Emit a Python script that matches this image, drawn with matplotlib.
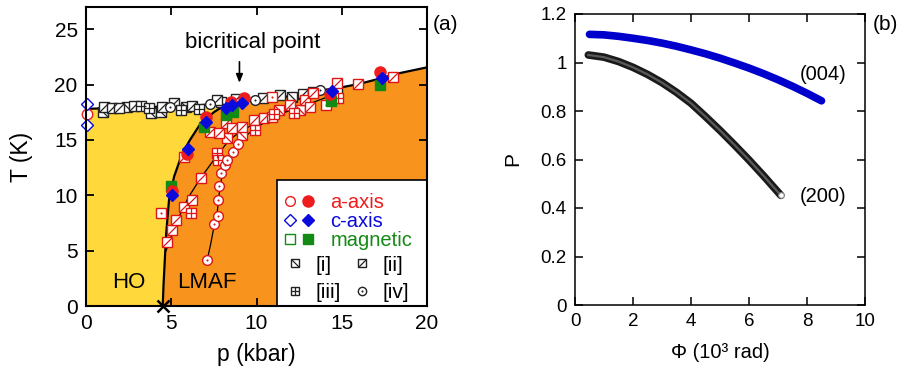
import matplotlib
matplotlib.use("Agg")
import matplotlib.pyplot as plt
import matplotlib.path as mpath
from matplotlib.lines import Line2D
from matplotlib.legend_handler import HandlerTuple
from matplotlib.patches import Rectangle
import numpy as np

plt.rcParams.update({"font.family": ["Liberation Sans", "DejaVu Sans"]})

YELLOW = "#FFD83C"
ORANGE = "#F8931E"
RED = "#EE1C1C"
BLUE = "#0A0ADC"
GREEN = "#138A13"
EDGE_AF = "#DD1515"

# ---------------- panel (a) data: phase diagram ----------------
# HO/LMAF -> PM boundary (upper line)
t0_p = np.array([0, 3, 6, 8, 9, 10, 12, 13.7, 15, 16, 17.4, 18, 20])
t0_T = np.array([17.8, 17.95, 18.05, 18.3, 18.5, 18.65, 18.95, 19.45, 19.75, 20.05, 20.6, 20.9, 21.55])
# HO / LMAF boundary
tx_p = np.array([4.5, 4.55, 4.6, 4.7, 4.87, 5.17, 5.65, 6.1, 6.73, 7.5, 8.3])
tx_T = np.array([0, 2.0, 3.5, 6.5, 9.6, 11.7, 13.8, 15.0, 16.5, 17.5, 18.3])
# thin guide lines in LMAF
lineA_p = [4.7, 5.0, 5.5, 6.0, 6.7, 7.5, 8.4, 9.2, 10.2, 11.5, 13.0, 14.2]
lineA_T = [5.0, 6.3, 8.2, 9.8, 11.5, 13.2, 15.0, 15.9, 16.7, 17.4, 18.2, 18.9]
lineB_p = [7.1, 7.3, 7.55, 7.7, 7.8, 7.95, 8.2, 8.6, 9.0, 9.7, 10.6, 11.8]
lineB_T = [4.1, 5.5, 7.5, 8.5, 10.0, 11.5, 13.0, 14.0, 14.8, 15.8, 16.7, 17.6]

# T0 (HO) points, samples [i]-[iv]
ho_i_p = [0.98, 2.4, 3.8, 4.4, 5.85, 7.9, 12.1, 14.7]
ho_i_T = [17.55, 17.95, 17.4, 17.55, 18.0, 18.45, 18.85, 19.3]
ho_ii_p = [1.07, 1.5, 1.95, 2.83, 4.48, 5.16, 6.24, 7.7, 8.8, 10.4, 11.4, 12.75, 13.3]
ho_ii_T = [18.0, 17.85, 17.86, 18.07, 18.0, 18.3, 18.07, 18.6, 18.7, 18.8, 19.05, 19.1, 19.3]
ho_iii_p = [3.2, 3.7, 5.56, 6.6]
ho_iii_T = [18.1, 17.86, 17.7, 17.8]
ho_iv_p = [4.9, 7.3, 9.9, 13.75]
ho_iv_T = [17.95, 18.25, 18.6, 19.5]

# TN (LMAF) points, samples [i]-[iv]
af_i_p = [8.28, 9.16, 11.3, 12.57]
af_i_T = [15.15, 15.45, 17.7, 17.7]
af_ii_p = [4.78, 5.07, 5.26, 5.75, 6.24, 6.73, 5.75, 7.3, 7.8, 8.19, 8.58, 9.16, 9.84,
           10.43, 10.92, 11.95, 12.87, 13.16, 13.3, 14.72, 15.98, 18.03, 14.5]
af_ii_T = [5.8, 6.87, 7.77, 8.97, 9.58, 11.53, 13.5, 15.75, 15.6, 16.5, 16.05, 16.2, 16.8,
           16.95, 17.1, 18.15, 18.6, 18.0, 19.2, 20.1, 20.05, 20.65, 18.8]
af_iii_p = [6.14, 7.7, 7.75, 9.94, 11.0, 14.8, 12.2]
af_iii_T = [8.37, 13.8, 13.2, 15.9, 17.3, 18.8, 17.4]
af_sd_p = [4.39, 14.1, 10.9]
af_sd_T = [8.37, 18.15, 18.9]
af_iv_p = [7.11, 7.5, 7.74, 7.74, 7.8, 7.9, 8.13, 8.28, 8.64, 8.9]
af_iv_T = [4.16, 7.4, 8.1, 9.6, 10.8, 12.0, 12.7, 13.2, 13.9, 14.6]

# thermal expansion / neutron points
a_p = [5.07, 5.95, 7.02, 8.5, 9.26, 14.33, 17.25]
a_T = [10.4, 13.7, 17.1, 18.4, 18.76, 19.1, 21.1]
c_p = [5.07, 6.0, 7.02, 8.19, 8.58, 9.16, 14.4, 17.35]
c_T = [10.0, 14.2, 16.65, 17.86, 18.15, 18.3, 19.4, 20.6]
m_p = [4.97, 6.92, 8.19, 8.6, 14.37, 17.25]
m_T = [10.85, 16.2, 17.25, 17.5, 18.5, 19.95]
a0_p, a0_T = [0.05], [17.3]
c0_p, c0_T = [0.05, 0.05], [18.2, 16.35]

# ---------------- panel (b) data ----------------
phi_004 = [0.5, 1, 1.5, 2, 2.5, 3, 3.5, 4, 4.5, 5, 5.5, 6, 6.5, 7, 7.5, 8, 8.5]
p_004 = [1.116, 1.114, 1.108, 1.100, 1.091, 1.080, 1.067, 1.052, 1.036, 1.018, 0.998,
         0.977, 0.954, 0.929, 0.902, 0.873, 0.842]
phi_200 = [0.46, 1, 1.5, 2, 2.5, 3, 3.5, 4, 4.5, 5, 5.5, 6, 6.5, 7.1]
p_200 = [1.031, 1.022, 1.004, 0.980, 0.951, 0.917, 0.877, 0.832, 0.777, 0.720, 0.660,
         0.598, 0.533, 0.452]

BACK = mpath.Path([(-1, 1), (1, -1)])
FWD = mpath.Path([(-1, -1), (1, 1)])
INNER = {"i": BACK, "ii": FWD, "iii": "+"}


def sample_handles(kind, edge, ms):
    """Line2D pieces making up one sample symbol (square + inner mark)."""
    if kind == "iv":
        return [Line2D([], [], ls="none", marker="o", ms=ms + 0.5, mfc="white", mec=edge, mew=1.0),
                Line2D([], [], ls="none", marker="o", ms=1.5, mfc=edge, mec=edge, mew=0)]
    base = Line2D([], [], ls="none", marker="s", ms=ms, mfc="white", mec=edge, mew=1.0)
    if kind == "sd":
        return [base, Line2D([], [], ls="none", marker="o", ms=1.5, mfc=edge, mec=edge, mew=0)]
    return [base, Line2D([], [], ls="none", marker=INNER[kind], ms=ms, mfc="none", mec=edge, mew=0.9)]


def sample(ax, p, T, kind, edge, ms=6.5, z=3):
    for h in sample_handles(kind, edge, ms):
        ax.plot(p, T, ls="none", marker=h.get_marker(), ms=h.get_markersize(),
                mfc=h.get_markerfacecolor(), mec=h.get_markeredgecolor(),
                mew=h.get_markeredgewidth(), zorder=z)


fig = plt.figure(figsize=(9.05, 3.74), dpi=100)
axa = fig.add_axes([86 / 905, 68 / 374, 341 / 905, 299 / 374])
axb = fig.add_axes([575 / 905, 69 / 374, 290 / 905, 291 / 374])

# ---- phase areas
junction = tx_p[-1]
left = t0_p < junction
yel_x = np.concatenate([[0], tx_p, t0_p[left][::-1]])
yel_y = np.concatenate([[0], tx_T, t0_T[left][::-1]])
org_x = np.concatenate([tx_p, t0_p[~left], [20]])
org_y = np.concatenate([tx_T, t0_T[~left], [0]])
axa.fill(yel_x, yel_y, color=YELLOW, lw=0, zorder=0)
axa.fill(org_x, org_y, color=ORANGE, lw=0, zorder=0)

axa.plot(t0_p, t0_T, "k-", lw=1.6, zorder=1)
axa.plot(tx_p, tx_T, "k-", lw=1.6, zorder=1)
axa.plot(lineA_p, lineA_T, "k-", lw=0.9, zorder=1)
axa.plot(lineB_p, lineB_T, "k-", lw=0.9, zorder=1)

sample(axa, ho_i_p, ho_i_T, "i", "#222222")
sample(axa, ho_ii_p, ho_ii_T, "ii", "#222222")
sample(axa, ho_iii_p, ho_iii_T, "iii", "#222222")
sample(axa, ho_iv_p, ho_iv_T, "iv", "#222222")
sample(axa, af_i_p, af_i_T, "i", EDGE_AF)
sample(axa, af_ii_p, af_ii_T, "ii", EDGE_AF)
sample(axa, af_iii_p, af_iii_T, "iii", EDGE_AF)
sample(axa, af_sd_p, af_sd_T, "sd", EDGE_AF)
sample(axa, af_iv_p, af_iv_T, "iv", EDGE_AF)

axa.plot(m_p, m_T, "s", ms=7, color=GREEN, zorder=4)
axa.plot(a_p, a_T, "o", ms=8, color=RED, zorder=4)
axa.plot(c_p, c_T, "D", ms=6.5, color=BLUE, zorder=4)
axa.plot(a0_p, a0_T, "o", ms=7.5, mfc="white", mec=RED, mew=1.0, zorder=4, clip_on=False)
axa.plot(c0_p, c0_T, "D", ms=6.5, mfc="white", mec=BLUE, mew=1.0, zorder=4, clip_on=False)
axa.plot([tx_p[0]], [0], "x", ms=8, mew=1.8, color="k", zorder=6, clip_on=False)

axa.annotate("", xy=(9.0, 19.9), xytext=(9.0, 22.3),
             arrowprops=dict(arrowstyle="-|>,head_length=0.5,head_width=0.2", color="k", lw=1.2))
axa.text(9.8, 23.75, "bicritical point", ha="center", va="center", fontsize=16)
axa.text(2.5, 2.1, "HO", ha="center", va="center", fontsize=16)
axa.text(7.1, 2.1, "LMAF", ha="center", va="center", fontsize=16)

# ---- legend box
axa.add_patch(Rectangle((11.2, 0), 8.8, 11.4, fc="white", ec="black", lw=1.2, zorder=4.5))
h_rows = [
    (Line2D([], [], ls="none", marker="o", ms=7, mfc="white", mec=RED, mew=1.0),
     Line2D([], [], ls="none", marker="o", ms=8, color=RED)),
    (Line2D([], [], ls="none", marker="D", ms=6, mfc="white", mec=BLUE, mew=1.0),
     Line2D([], [], ls="none", marker="D", ms=6.5, color=BLUE)),
    (Line2D([], [], ls="none", marker="s", ms=7, mfc="white", mec=GREEN, mew=1.0),
     Line2D([], [], ls="none", marker="s", ms=7, color=GREEN)),
]
leg1 = axa.legend(h_rows, ["a-axis", "c-axis", "magnetic"], loc="upper left",
                  bbox_to_anchor=(0.578, 0.377), frameon=False, fontsize=14.5,
                  handler_map={tuple: HandlerTuple(ndivide=None, pad=0.2)},
                  handlelength=1.55, handletextpad=0.8, labelspacing=0.0, borderpad=0,
                  borderaxespad=0)
for txt, col in zip(leg1.get_texts(), [RED, BLUE, GREEN]):
    txt.set_color(col)
leg1.set_zorder(6)
axa.add_artist(leg1)

kinds = ["i", "iii", "ii", "iv"]
h_samp = [tuple(sample_handles(k, "#222222", 5.5)) for k in kinds]
leg2 = axa.legend(h_samp, ["[i]", "[iii]", "[ii]", "[iv]"], loc="upper left", ncol=2,
                  bbox_to_anchor=(0.582, 0.168), frameon=False, fontsize=15,
                  handler_map={tuple: HandlerTuple(ndivide=1)},
                  handlelength=1.0, handletextpad=0.5, columnspacing=0.5,
                  labelspacing=0.4, borderpad=0, borderaxespad=0)
leg2.set_zorder(6)

axa.set_xlim(0, 20)
axa.set_ylim(0, 27)
axa.set_xticks([0, 5, 10, 15, 20])
axa.set_yticks([0, 5, 10, 15, 20, 25])
axa.tick_params(direction="in", top=True, right=True, length=6, width=1.3,
                labelsize=15, pad=6)
for s in axa.spines.values():
    s.set_linewidth(1.5)
    s.set_zorder(7)
axa.set_xlabel("p (kbar)", fontsize=16.5)
axa.set_ylabel("T (K)", fontsize=16.5)
axa.xaxis.set_label_coords(0.5, -0.125)
axa.yaxis.set_label_coords(-0.155, 0.5)

# ---- panel (b)
axb.plot(phi_004, p_004, color="#0000CC", lw=5.5, solid_capstyle="round")
axb.plot(phi_200, p_200, color="#1a1a1a", lw=5.5, solid_capstyle="round")
axb.plot(phi_200, p_200, color="#5a5a5a", lw=1.6)
axb.plot(phi_200[-1], p_200[-1], "o", ms=4, mfc="white", mec="#888888", mew=0.8)
axb.text(7.75, 0.95, "(004)", va="center", fontsize=14.5)
axb.text(7.75, 0.447, "(200)", va="center", fontsize=14.5)

axb.set_xlim(0, 10)
axb.set_ylim(0, 1.2)
axb.set_xticks([0, 2, 4, 6, 8, 10])
axb.set_yticks([0, 0.2, 0.4, 0.6, 0.8, 1.0, 1.2])
axb.set_yticklabels(["0", "0.2", "0.4", "0.6", "0.8", "1", "1.2"])
axb.tick_params(direction="in", top=True, right=True, length=6, width=1.1,
                labelsize=13.5, pad=6)
for s in axb.spines.values():
    s.set_linewidth(1.1)
axb.set_xlabel("\u03a6 (10\u00b3 rad)", fontsize=14.5)
axb.set_ylabel("P", fontsize=15)
axb.xaxis.set_label_coords(0.5, -0.13)
axb.yaxis.set_label_coords(-0.183, 0.5)

fig.text(433 / 905, 1 - 25 / 374, "(a)", fontsize=15, va="center")
fig.text(873 / 905, 1 - 25 / 374, "(b)", fontsize=15, va="center")

fig.savefig("out.png", dpi=100)
